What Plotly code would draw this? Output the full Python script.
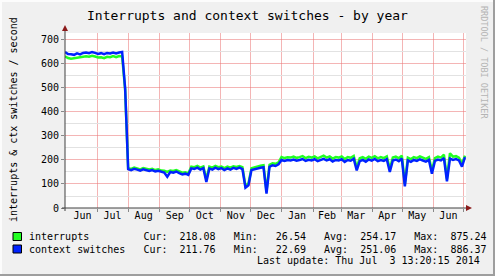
import pandas as pd
import plotly.graph_objects as go

# ---------------- data (3-day samples starting 2013-05-29 13:20) ----------------
start_date = "2013-05-29 13:20"
step_days = 3
ctx_switches = [
    650, 641, 640, 638, 644, 640, 646, 648, 645, 650,
    646, 642, 645, 641, 646, 644, 648, 644, 648, 650,
    498, 162, 158, 163, 160, 156, 161, 157, 154, 158,
    152, 155, 150, 148, 130, 150, 147, 152, 145, 140,
    143, 138, 165, 163, 168, 160, 166, 108, 165, 160,
    168, 162, 166, 158, 165, 160, 167, 163, 168, 162,
    85, 95, 158, 162, 165, 168, 170, 60, 172, 178,
    175, 182, 200, 196, 200, 198, 202, 197, 200, 204,
    196, 201, 198, 203, 195, 200, 205, 198, 203, 194,
    200, 198, 203, 192, 200, 197, 205, 157, 195, 200,
    193, 202, 197, 204, 195, 200, 196, 203, 150, 198,
    202, 195, 206, 90, 198, 192, 200, 196, 203, 198,
    193, 200, 143, 196, 202, 198, 208, 111, 206, 200,
    204, 198, 172, 212,
]
interrupts = [
    632, 625, 622, 624, 626, 625, 628, 632, 630, 634,
    631, 627, 628, 624, 630, 628, 633, 628, 633, 632,
    493, 166, 163, 168, 165, 161, 166, 162, 160, 163,
    158, 161, 156, 155, 150, 156, 154, 158, 152, 147,
    149, 144, 172, 170, 175, 168, 173, 120, 172, 168,
    175, 170, 173, 166, 172, 168, 174, 171, 175, 170,
    92, 102, 166, 170, 173, 176, 178, 70, 180, 186,
    184, 190, 212, 208, 211, 210, 214, 209, 212, 216,
    208, 213, 210, 215, 207, 212, 218, 210, 215, 206,
    212, 210, 215, 204, 212, 209, 217, 168, 207, 212,
    205, 214, 209, 216, 207, 212, 208, 215, 162, 210,
    214, 207, 218, 100, 210, 204, 212, 208, 215, 210,
    205, 212, 155, 208, 214, 210, 222, 122, 228, 214,
    216, 210, 184, 218,
]
series_names = ["interrupts", "context switches"]
series_colors = ["#22ff22", "#0022ff"]
stat_cur = ["218.08", "211.76"]
stat_min = ["26.54", "22.69"]
stat_avg = ["254.17", "251.06"]
stat_max = ["875.24", "886.37"]
month_labels = ["Jun", "Jul", "Aug", "Sep", "Oct", "Nov", "Dec",
                "Jan", "Feb", "Mar", "Apr", "May", "Jun"]
month_label_dates = ["2013-06-16", "2013-07-16", "2013-08-16", "2013-09-16",
                     "2013-10-16", "2013-11-16", "2013-12-16", "2014-01-16",
                     "2014-02-15", "2014-03-16", "2014-04-16", "2014-05-16",
                     "2014-06-16"]
month_starts = ["2013-07-01", "2013-08-01", "2013-09-01", "2013-10-01",
                "2013-11-01", "2013-12-01", "2014-01-01", "2014-02-01",
                "2014-03-01", "2014-04-01", "2014-05-01", "2014-06-01",
                "2014-07-01"]
x_range = ["2013-05-29 13:20", "2014-07-03 13:20"]
y_range = [0, 729]
title = "Interrupts and context switches - by year"
y_title = "interrupts & ctx switches / second"
last_update = "Last update: Thu Jul  3 13:20:15 2014"
watermark = "RRDTOOL / TOBI OETIKER"

# ---------------- layout geometry (pixels) ----------------
W, H = 495, 276
PL, PR, PT, PB = 65, 466, 33, 208
MONO = "DejaVu Sans Mono"


def xp(px):
    return (px - PL) / (PR - PL)


def yp(py):
    return (PB - py) / (PB - PT)


dates = pd.date_range(start=start_date, periods=len(ctx_switches), freq=f"{step_days}D")

fig = go.Figure()
for name, vals, col in zip(series_names, [interrupts, ctx_switches], series_colors):
    fig.add_trace(go.Scatter(x=dates, y=vals, mode="lines", name=name,
                             line=dict(color=col, width=2.5, shape="linear"),
                             showlegend=False, hoverinfo="skip"))

fig.update_layout(
    width=W, height=H,
    margin=dict(l=PL, r=W - PR, t=PT, b=H - PB, pad=0),
    paper_bgcolor="#f0f0f0", plot_bgcolor="#ffffff",
    font=dict(family=MONO, size=10, color="#000000"),
    xaxis=dict(
        type="date", range=x_range, showline=False, zeroline=False,
        tickmode="array", tickvals=month_label_dates, ticktext=month_labels,
        showgrid=False, ticks="", tickfont=dict(family=MONO, size=10),
        minor=dict(tickmode="array", tickvals=month_starts, showgrid=True,
                   gridcolor="rgba(235,120,120,0.55)", gridwidth=1,
                   ticks="outside", ticklen=3, tickcolor="#888888"),
    ),
    yaxis=dict(
        range=y_range, showline=False, zeroline=False,
        tickmode="linear", tick0=0, dtick=100, showgrid=True,
        gridcolor="rgba(235,120,120,0.55)", gridwidth=1,
        ticks="outside", ticklen=3, tickcolor="#888888",
        tickfont=dict(family=MONO, size=10),
        minor=dict(tick0=0, dtick=50, showgrid=True, gridcolor="#e2e2e2", gridwidth=1),
    ),
)

shapes = []
# frame bevel
shapes.append(dict(type="line", xref="paper", yref="paper", x0=xp(1), x1=xp(1), y0=yp(0), y1=yp(H), line=dict(color="#fcfcfc", width=2)))
shapes.append(dict(type="line", xref="paper", yref="paper", x0=xp(0), x1=xp(W), y0=yp(1), y1=yp(1), line=dict(color="#fcfcfc", width=2)))
shapes.append(dict(type="line", xref="paper", yref="paper", x0=xp(W - 1), x1=xp(W - 1), y0=yp(0), y1=yp(H), line=dict(color="#9e9e9e", width=2)))
shapes.append(dict(type="line", xref="paper", yref="paper", x0=xp(0), x1=xp(W), y0=yp(H - 1), y1=yp(H - 1), line=dict(color="#9e9e9e", width=2)))
# axes lines
shapes.append(dict(type="line", xref="paper", yref="paper", x0=xp(62), x1=xp(469), y0=0, y1=0, line=dict(color="#404040", width=1)))
shapes.append(dict(type="line", xref="paper", yref="paper", x0=0, x1=0, y0=yp(211), y1=yp(28), line=dict(color="#404040", width=1)))
# arrows
shapes.append(dict(type="path", xref="paper", yref="paper",
                   path=f"M {xp(62)} {yp(31)} L {xp(68)} {yp(31)} L {xp(65)} {yp(25)} Z",
                   fillcolor="#8b1a1a", line=dict(color="#8b1a1a", width=0)))
shapes.append(dict(type="path", xref="paper", yref="paper",
                   path=f"M {xp(466)} {yp(205)} L {xp(466)} {yp(211)} L {xp(472)} {yp(208)} Z",
                   fillcolor="#8b1a1a", line=dict(color="#8b1a1a", width=0)))
# legend swatches
for i, col in enumerate(series_colors):
    cy = 236.5 + i * 12.5
    shapes.append(dict(type="rect", xref="paper", yref="paper",
                       x0=xp(13), x1=xp(21.5), y0=yp(cy + 4), y1=yp(cy - 4),
                       fillcolor=col, line=dict(color="#000000", width=1)))
fig.update_layout(shapes=shapes)

NB = "\u00a0"
annotations = [
    dict(text=title, x=xp(247.5), y=yp(16), xanchor="center", yanchor="middle",
         font=dict(family=MONO, size=13, color="#000000")),
    dict(text=y_title, x=xp(13), y=yp(120), xanchor="center", yanchor="middle",
         textangle=-90, font=dict(family=MONO, size=10, color="#000000")),
    dict(text=watermark, x=xp(484), y=yp(62), xanchor="center", yanchor="middle",
         textangle=90, font=dict(family=MONO, size=8.5, color="#b4b4b4")),
]
for i, name in enumerate(series_names):
    line = (name.ljust(19) + "Cur:" + stat_cur[i].rjust(8) + " " * 3 + "Min:"
            + stat_min[i].rjust(8) + " " * 3 + "Avg:" + stat_avg[i].rjust(8)
            + " " * 3 + "Max:" + stat_max[i].rjust(8))
    annotations.append(dict(text=line.replace(" ", NB), x=xp(27), y=yp(236.5 + i * 12.5),
                            xanchor="left", yanchor="middle",
                            font=dict(family=MONO, size=10, color="#000000")))
annotations.append(dict(text=last_update.replace(" ", NB), x=xp(482), y=yp(260.5),
                        xanchor="right", yanchor="middle",
                        font=dict(family=MONO, size=10, color="#000000")))
for a in annotations:
    a.update(xref="paper", yref="paper", showarrow=False)
fig.update_layout(annotations=annotations)

fig.write_html("out.html")
